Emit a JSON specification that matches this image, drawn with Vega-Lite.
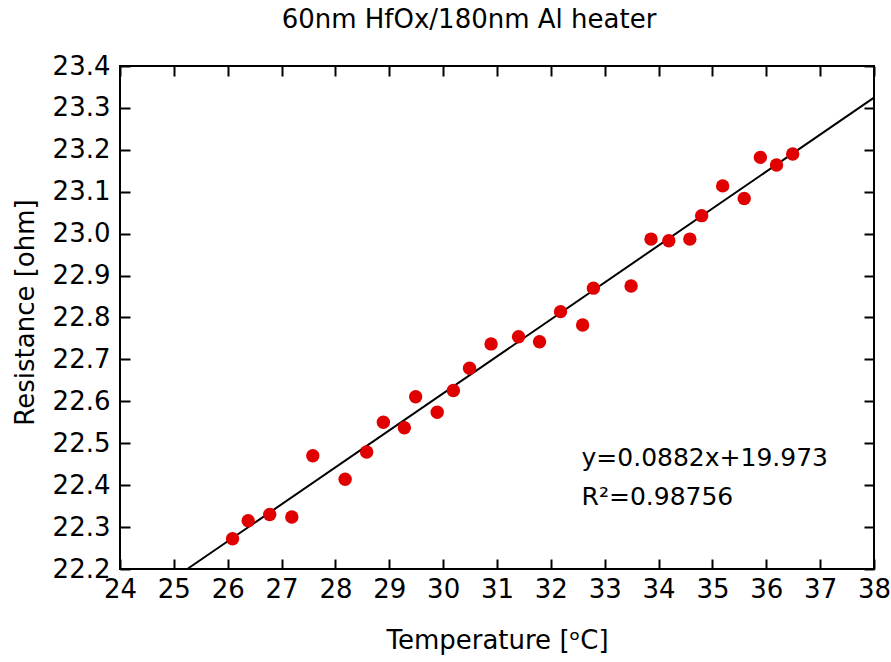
{
  "$schema": "https://vega.github.io/schema/vega-lite/v6.json",
  "autosize": "none",
  "width": 754,
  "height": 503,
  "padding": {"left": 120, "top": 66, "right": 17, "bottom": 93},
  "background": "white",
  "title": {
    "text": "60nm HfOx/180nm Al heater",
    "font": "DejaVu Sans",
    "fontSize": 26,
    "fontWeight": "normal",
    "color": "#000",
    "anchor": "middle",
    "frame": "group",
    "baseline": "bottom",
    "offset": 18,
    "dx": -28,
    "dy": 24
  },
  "config": {
    "view": {"stroke": "#000", "strokeWidth": 2},
    "axis": {
      "grid": false,
      "domain": false,
      "ticks": true,
      "tickColor": "#000",
      "tickWidth": 2,
      "tickSize": -10,
      "labelFont": "DejaVu Sans",
      "labelFontSize": 26,
      "labelColor": "#000",
      "titleFont": "DejaVu Sans",
      "titleFontSize": 26,
      "titleFontWeight": "normal",
      "titleColor": "#000"
    }
  },
  "datasets": {
    "points": [
      {"temp": 26.09, "res": 22.272},
      {"temp": 26.38, "res": 22.315},
      {"temp": 26.78, "res": 22.330},
      {"temp": 27.19, "res": 22.324},
      {"temp": 27.58, "res": 22.470},
      {"temp": 28.18, "res": 22.414},
      {"temp": 28.58, "res": 22.479},
      {"temp": 28.89, "res": 22.550},
      {"temp": 29.28, "res": 22.537},
      {"temp": 29.49, "res": 22.611},
      {"temp": 29.89, "res": 22.574},
      {"temp": 30.19, "res": 22.626},
      {"temp": 30.49, "res": 22.679},
      {"temp": 30.89, "res": 22.737},
      {"temp": 31.40, "res": 22.754},
      {"temp": 31.79, "res": 22.742},
      {"temp": 32.18, "res": 22.814},
      {"temp": 32.59, "res": 22.782},
      {"temp": 32.79, "res": 22.870},
      {"temp": 33.49, "res": 22.875},
      {"temp": 33.86, "res": 22.987},
      {"temp": 34.19, "res": 22.983},
      {"temp": 34.58, "res": 22.987},
      {"temp": 34.80, "res": 23.043},
      {"temp": 35.19, "res": 23.114},
      {"temp": 35.59, "res": 23.084},
      {"temp": 35.89, "res": 23.182},
      {"temp": 36.19, "res": 23.164},
      {"temp": 36.49, "res": 23.190}
    ],
    "fit": [
      {"temp": 25.25, "res": 22.2},
      {"temp": 38.0, "res": 23.3246}
    ],
    "notes": [
      {"temp": 32.57, "res": 22.4457, "label": "y=0.0882x+19.973"},
      {"temp": 32.57, "res": 22.3527, "label": "R²=0.98756"}
    ]
  },
  "layer": [
    {
      "data": {"name": "fit"},
      "mark": {"type": "line", "color": "#000", "strokeWidth": 2},
      "encoding": {
        "x": {
          "field": "temp", "type": "quantitative",
          "scale": {"domain": [24, 38], "nice": false, "zero": false},
          "axis": {
            "orient": "bottom",
            "title": "Temperature [ᵒC]",
            "values": [24,25,26,27,28,29,30,31,32,33,34,35,36,37,38],
            "format": "d",
            "labelPadding": 17,
            "labelFlush": false,
            "titleBaseline": "alphabetic",
            "titleY": 79
          }
        },
        "y": {
          "field": "res", "type": "quantitative",
          "scale": {"domain": [22.2, 23.4], "nice": false, "zero": false},
          "axis": {
            "orient": "left",
            "title": "Resistance [ohm]",
            "values": [22.2,22.3,22.4,22.5,22.6,22.7,22.8,22.9,23.0,23.1,23.2,23.3,23.4],
            "format": ".1f",
            "labelPadding": 20,
            "labelFlush": false,
            "titleBaseline": "alphabetic",
            "titleX": -87,
            "titleY": 246
          }
        }
      }
    },
    {
      "data": {"name": "points"},
      "mark": {"type": "circle", "color": "#e00000", "opacity": 1, "size": 180},
      "encoding": {
        "x": {
          "field": "temp", "type": "quantitative",
          "axis": {
            "orient": "top",
            "title": null,
            "labels": false,
            "minExtent": 0,
            "maxExtent": 0,
            "values": [24,25,26,27,28,29,30,31,32,33,34,35,36,37,38]
          }
        },
        "y": {
          "field": "res", "type": "quantitative",
          "axis": {
            "orient": "right",
            "title": null,
            "labels": false,
            "minExtent": 0,
            "maxExtent": 0,
            "values": [22.2,22.3,22.4,22.5,22.6,22.7,22.8,22.9,23.0,23.1,23.2,23.3,23.4]
          }
        }
      }
    },
    {
      "data": {"name": "notes"},
      "mark": {"type": "text", "align": "left", "baseline": "alphabetic", "font": "DejaVu Sans", "fontSize": 25, "color": "#000"},
      "encoding": {
        "x": {"field": "temp", "type": "quantitative", "axis": null},
        "y": {"field": "res", "type": "quantitative", "axis": null},
        "text": {"field": "label"}
      }
    }
  ],
  "resolve": {"axis": {"x": "independent", "y": "independent"}}
}
